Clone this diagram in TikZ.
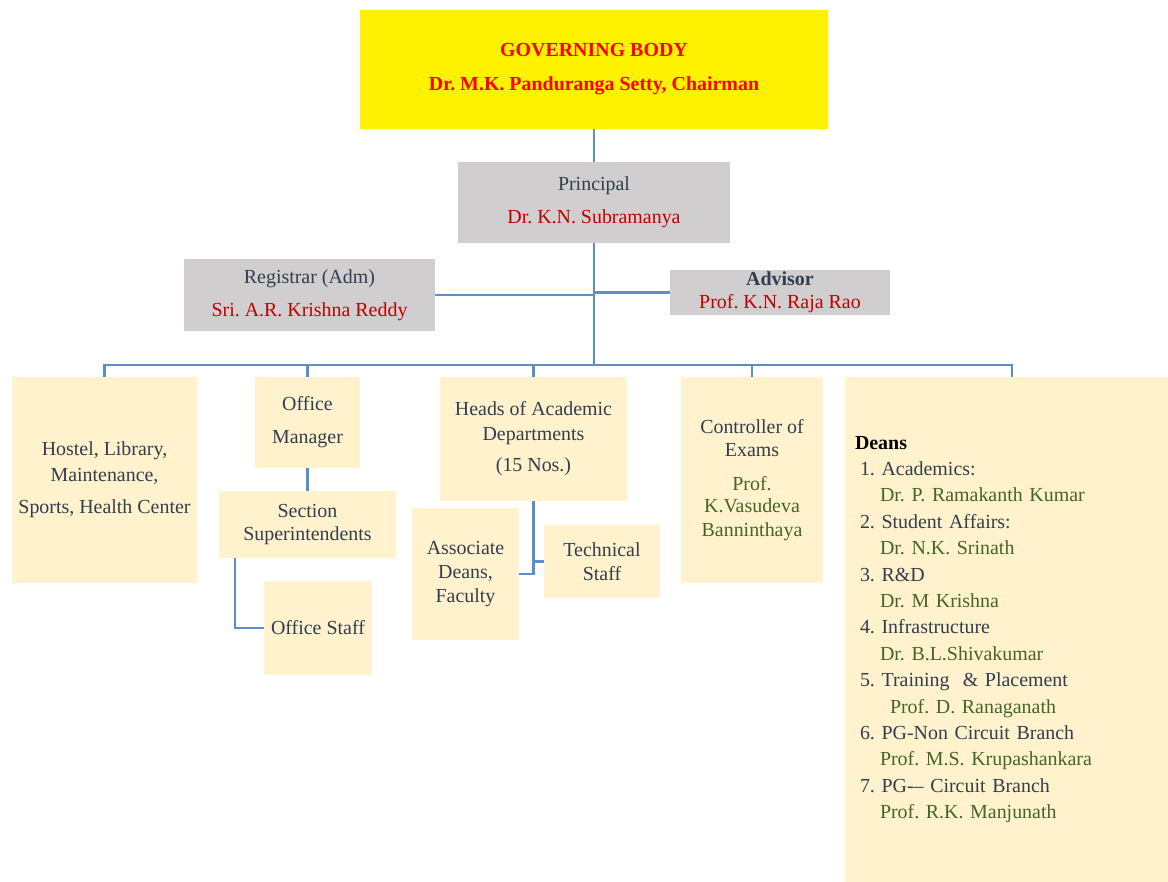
\documentclass[tikz,border=0pt]{standalone}
\usepackage{fontspec}
\setmainfont{LiberationSerif}[Extension=.ttf, UprightFont=*-Regular, BoldFont=*-Bold, ItalicFont=*-Italic, BoldItalicFont=*-BoldItalic]
\frenchspacing
\definecolor{cream}{HTML}{FFF2CC}
\definecolor{grey}{HTML}{D0CECE}
\definecolor{txt}{HTML}{323E4F}
\definecolor{nm}{HTML}{C00000}
\definecolor{grn}{HTML}{44652A}
\definecolor{linkblue}{HTML}{5B8FC9}
\tikzset{
  box/.style={fill=cream, inner sep=0pt, align=center, text=txt, font=\fontsize{20}{24}\selectfont},
  greybox/.style={box, fill=grey},
  link/.style={draw=linkblue, line width=2.4bp},
}

\begin{document}
\begin{tikzpicture}[x=1bp,y=-1bp]
\useasboundingbox (0,0) rectangle (1168,882);
% top of the chart
\node[box, fill=yellow, text=red, minimum width=468bp, minimum height=119bp, font=\fontsize{20}{24}\selectfont\bfseries] (gov) at (594,69.5) {GOVERNING BODY\\[10bp]Dr. M.K. Panduranga Setty, Chairman};
\node[greybox, minimum width=272bp, minimum height=81bp] (prin) at (594,202.5) {Principal\\[9bp]\textcolor{nm}{Dr. K.N. Subramanya}};
\node[greybox, minimum width=251bp, minimum height=72bp] (reg) at (309.5,295) {Registrar (Adm)\\[9bp]\textcolor{nm}{Sri. A.R. Krishna Reddy}};
\node[greybox, minimum width=220bp, minimum height=45bp] (adv) at (780,292.5) {\textbf{Advisor}\\[-1bp]\textcolor{nm}{Prof. K.N. Raja Rao}};
% second level
\node[box, minimum width=185bp, minimum height=206bp] (hostel) at (104.5,480) {Hostel, Library,\\[2bp]Maintenance,\\[8bp]Sports, Health Center};
\node[box, minimum width=105bp, minimum height=91bp] (office) at (307.5,422.5) {Office\\[9bp]Manager};
\node[box, minimum width=177bp, minimum height=67bp] (sect) at (307.5,524.5) {Section\\Superintendents};
\node[box, minimum width=108bp, minimum height=94bp] (staff) at (318,628) {Office Staff};
\node[box, minimum width=187bp, minimum height=124bp] (heads) at (533.5,439) {Heads of Academic\\[1bp]Departments\\[7bp](15 Nos.)};
\node[box, minimum width=107bp, minimum height=132bp] (assoc) at (465.5,574) {Associate\\Deans,\\Faculty};
\node[box, minimum width=116bp, minimum height=73bp] (tech) at (602,561.5) {Technical\\Staff};
\node[box, minimum width=142bp, minimum height=206bp] (ctrl) at (752,480) {Controller of\\Exams\\[10bp]\textcolor{grn}{Prof.}\\[-2bp]\textcolor{grn}{K.Vasudeva}\\\textcolor{grn}{Banninthaya}};
\node[box, align=left, text width=303bp, minimum width=323bp, minimum height=505bp, font=\fontsize{20}{26.5}\selectfont] (deans) at (1006.5,629.5) {%
\textcolor{black}{\textbf{Deans}}\\
\hspace*{5bp}1. Academics:\\
\hspace*{25bp}\textcolor{grn}{Dr. P. Ramakanth Kumar}\\
\hspace*{5bp}2. Student Affairs:\\
\hspace*{25bp}\textcolor{grn}{Dr. N.K. Srinath}\\
\hspace*{5bp}3. R\&D\\
\hspace*{25bp}\textcolor{grn}{Dr. M Krishna}\\
\hspace*{5bp}4. Infrastructure\\
\hspace*{25bp}\textcolor{grn}{Dr. B.L.Shivakumar}\\
\hspace*{5bp}5. Training \ \& Placement\\
\hspace*{35bp}\textcolor{grn}{Prof. D. Ranaganath}\\
\hspace*{5bp}6. PG-Non Circuit Branch\\
\hspace*{25bp}\textcolor{grn}{Prof. M.S. Krupashankara}\\
\hspace*{5bp}7. PG-{}-- Circuit Branch\\
\hspace*{25bp}\textcolor{grn}{Prof. R.K. Manjunath}};
% connectors
\coordinate (bus) at (594,365);
\coordinate (dn) at (1012,365);
\draw[link] (gov) -- (prin);
\draw[link] (prin) -- (bus);
\draw[link] (reg) -- (reg -| prin);
\draw[link] (adv) -- (adv -| prin);
\draw[link] (hostel.north) |- (dn) -- (dn |- deans.north);
\foreach \n in {office,heads,ctrl}
    \draw[link] (\n.north) -- (\n.north |- bus);
\draw[link] (office) -- (sect);
\draw[link] ([xshift=16bp]sect.south west) |- (staff);
\draw[link] (heads) |- (assoc);
\draw[link] (heads.south |- tech) -- (tech);
\end{tikzpicture}
\end{document}
